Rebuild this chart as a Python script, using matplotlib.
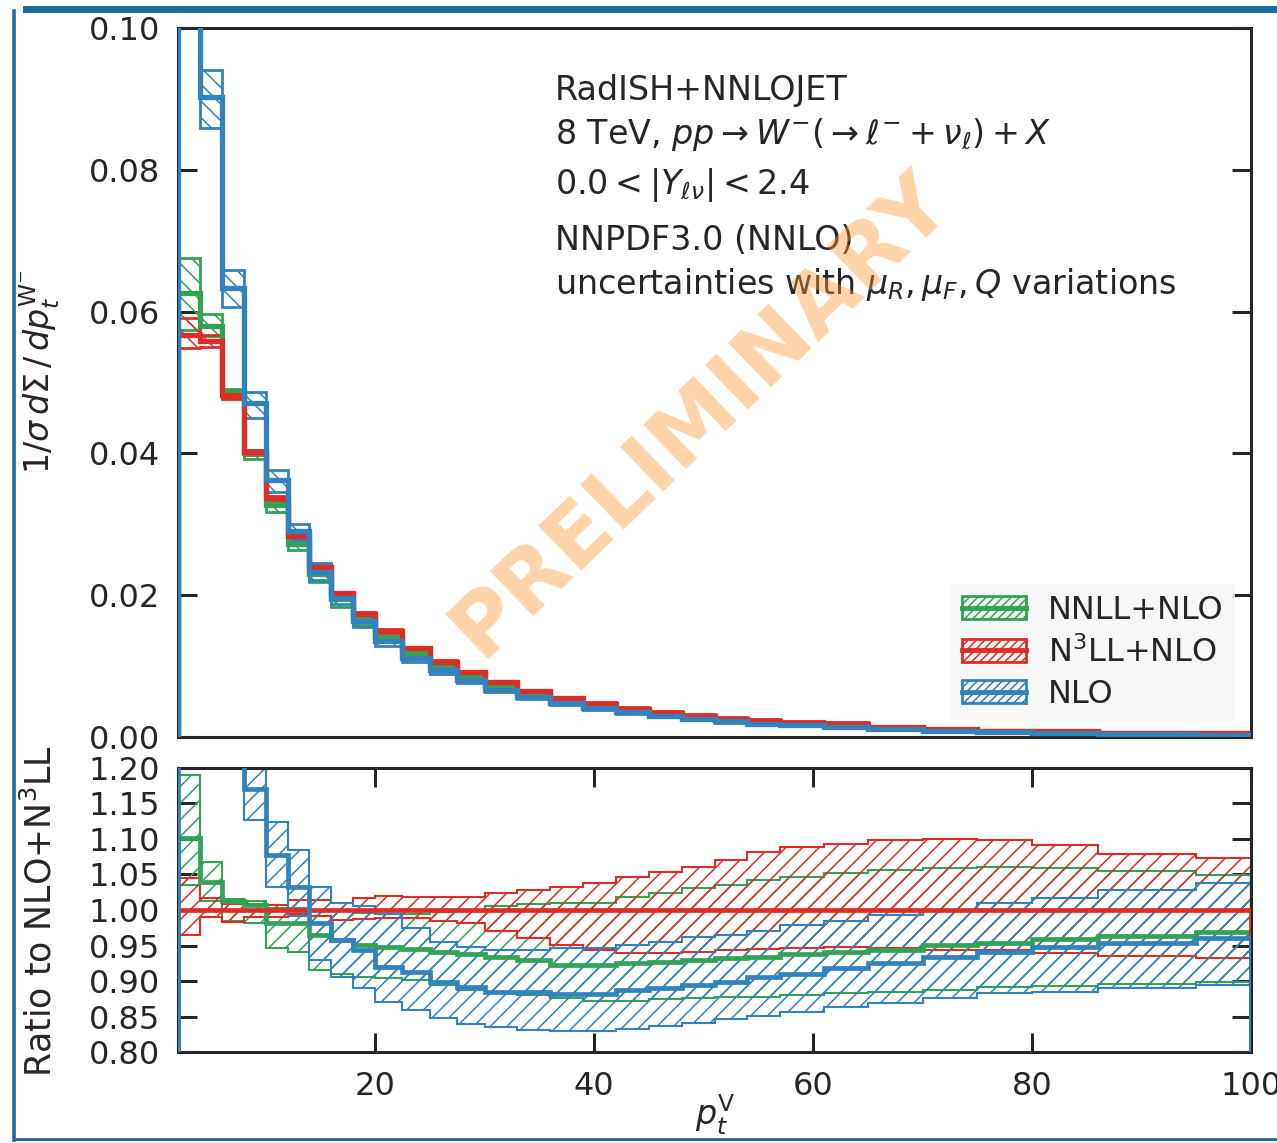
import matplotlib
matplotlib.use("Agg")
import matplotlib.pyplot as plt
import numpy as np
from matplotlib.lines import Line2D
from matplotlib.patches import Patch

plt.rcParams["font.family"] = ["DejaVu Sans"]
plt.rcParams["mathtext.fontset"] = "dejavusans"
plt.rcParams["hatch.linewidth"] = 1.1

GREEN, RED, BLUE = "#31a354", "#de2d26", "#3182bd"

# bin edges in p_t (GeV)
edges = [2, 4, 6, 8, 10, 12, 14, 16, 18, 20, 22.5, 25, 27.5, 30, 33, 36, 39, 42,
         45, 48, 51, 54, 57, 61, 65, 70, 75, 80, 86, 95, 100]

# ---- top panel: 1/sigma dSigma/dpt ----
nnll = [0.0626, 0.0580, 0.0487, 0.0400, 0.0327, 0.0272, 0.0230, 0.0194, 0.0166, 0.0141,
        0.0119, 0.0100, 0.0085, 0.0072, 0.0060, 0.0050, 0.0043, 0.0036, 0.0031, 0.0027,
        0.0023, 0.0020, 0.0018, 0.0016, 0.0013, 0.0010, 0.0008, 0.0007, 0.0005, 0.0004]
nnll_hi = [0.0675, 0.0597, 0.0491, 0.0405, 0.0332, 0.0278, 0.0233, 0.0198, 0.0169, 0.0143,
           0.0121, 0.0102, 0.0087, 0.0074, 0.0062, 0.0052, 0.0045, 0.0038, 0.0033, 0.0029,
           0.0025, 0.0022, 0.0019, 0.0017, 0.0014, 0.0011, 0.0009, 0.0008, 0.0006, 0.0005]
nnll_lo = [0.0574, 0.0565, 0.0478, 0.0392, 0.0318, 0.0264, 0.0219, 0.0184, 0.0158, 0.0134,
           0.0113, 0.0095, 0.0081, 0.0068, 0.0057, 0.0047, 0.0040, 0.0034, 0.0029, 0.0025,
           0.0021, 0.0018, 0.0016, 0.0014, 0.0012, 0.0009, 0.0007, 0.0006, 0.0004, 0.0003]

n3ll = [0.0567, 0.0558, 0.0482, 0.0402, 0.0337, 0.0283, 0.0240, 0.0203, 0.0174, 0.0149,
        0.0125, 0.0106, 0.0091, 0.0077, 0.0065, 0.0055, 0.0047, 0.0040, 0.0034, 0.0030,
        0.0026, 0.0023, 0.0020, 0.0019, 0.00145, 0.0011, 0.0009, 0.0008, 0.0006, 0.0005]
n3ll_hi = [0.0591, 0.0567, 0.0487, 0.0405, 0.0340, 0.0287, 0.0243, 0.0205, 0.0177, 0.0152,
           0.0127, 0.0108, 0.0093, 0.0079, 0.0067, 0.0057, 0.0049, 0.0042, 0.0036, 0.0032,
           0.0028, 0.0025, 0.0022, 0.0021, 0.0016, 0.0012, 0.0010, 0.0009, 0.0007, 0.0006]
n3ll_lo = [0.0548, 0.0550, 0.0477, 0.0398, 0.0334, 0.0281, 0.0238, 0.0200, 0.0172, 0.0147,
           0.0123, 0.0104, 0.0089, 0.0075, 0.0062, 0.0052, 0.0044, 0.0038, 0.0032, 0.0028,
           0.0024, 0.0022, 0.0019, 0.0018, 0.0014, 0.0010, 0.0008, 0.0007, 0.0005, 0.0004]

nlo = [0.118, 0.0903, 0.0633, 0.0471, 0.0362, 0.0290, 0.0233, 0.0196, 0.0163, 0.0135,
       0.0112, 0.0094, 0.0080, 0.0067, 0.0057, 0.0048, 0.0041, 0.0035, 0.0030, 0.0026,
       0.0022, 0.0019, 0.0017, 0.00145, 0.0011, 0.0008, 0.0007, 0.0005, 0.0004, 0.0003]
nlo_hi = [0.125, 0.0941, 0.0659, 0.0487, 0.0377, 0.0301, 0.0245, 0.0205, 0.0168, 0.0139,
          0.0116, 0.0097, 0.0083, 0.0070, 0.0060, 0.0050, 0.0043, 0.0037, 0.0032, 0.0028,
          0.0024, 0.0021, 0.0019, 0.0016, 0.0013, 0.0010, 0.0009, 0.0007, 0.0006, 0.0005]
nlo_lo = [0.112, 0.0859, 0.0607, 0.0450, 0.0346, 0.0278, 0.0222, 0.0187, 0.0155, 0.0128,
          0.0106, 0.0089, 0.0076, 0.0063, 0.0054, 0.0045, 0.0038, 0.0033, 0.0028, 0.0024,
          0.0020, 0.0017, 0.0015, 0.0013, 0.0010, 0.0007, 0.0006, 0.0004, 0.0003, 0.0002]

# ---- bottom panel: ratio to NLO+N3LL ----
r_nnll = [1.101, 1.040, 1.012, 1.007, 0.982, 0.982, 0.965, 0.958, 0.951, 0.948,
          0.945, 0.941, 0.938, 0.934, 0.929, 0.923, 0.923, 0.925, 0.927, 0.930,
          0.932, 0.934, 0.938, 0.941, 0.944, 0.951, 0.954, 0.959, 0.963, 0.969]
r_nnll_hi = [1.190, 1.068, 1.015, 1.012, 1.003, 1.003, 1.000, 0.998, 0.996, 0.995,
             0.995, 0.997, 1.000, 1.005, 1.008, 1.010, 1.010, 1.019, 1.024, 1.031,
             1.035, 1.042, 1.047, 1.052, 1.056, 1.059, 1.061, 1.059, 1.055, 1.049]
r_nnll_lo = [1.035, 1.012, 0.985, 0.982, 0.946, 0.941, 0.916, 0.910, 0.906, 0.904,
             0.901, 0.894, 0.887, 0.883, 0.880, 0.876, 0.872, 0.872, 0.874, 0.876,
             0.878, 0.878, 0.880, 0.883, 0.885, 0.887, 0.891, 0.893, 0.896, 0.899]

r_n3ll = [1.0, 1.0, 1.0, 1.0, 1.0, 1.0, 1.0, 1.0, 1.0, 1.0,
          1.0, 1.0, 1.0, 1.0, 1.0, 1.0, 1.0, 1.0, 1.0, 1.0,
          1.0, 1.0, 1.0, 1.0, 1.0, 1.0, 1.0, 1.0, 1.0, 1.0]
r_n3ll_hi = [1.045, 1.017, 1.008, 1.008, 1.007, 1.014, 1.014, 1.010, 1.017, 1.020,
             1.019, 1.019, 1.019, 1.024, 1.028, 1.033, 1.038, 1.047, 1.054, 1.060,
             1.070, 1.081, 1.089, 1.093, 1.098, 1.100, 1.099, 1.091, 1.079, 1.073]
r_n3ll_lo = [0.965, 0.990, 0.983, 0.990, 0.990, 0.995, 0.992, 0.986, 0.988, 0.989,
             0.989, 0.984, 0.981, 0.970, 0.960, 0.951, 0.944, 0.940, 0.939, 0.941,
             0.944, 0.945, 0.946, 0.948, 0.946, 0.944, 0.944, 0.940, 0.935, 0.932]

r_nlo = [2.05, 1.62, 1.31, 1.171, 1.077, 1.033, 0.981, 0.958, 0.944, 0.920,
         0.912, 0.898, 0.892, 0.885, 0.885, 0.882, 0.882, 0.887, 0.890, 0.894,
         0.899, 0.905, 0.910, 0.918, 0.926, 0.934, 0.941, 0.948, 0.954, 0.960]
r_nlo_hi = [2.20, 1.70, 1.37, 1.220, 1.124, 1.085, 1.033, 1.010, 1.005, 0.995,
            0.975, 0.955, 0.948, 0.944, 0.944, 0.946, 0.946, 0.951, 0.955, 0.962,
            0.965, 0.970, 0.979, 0.985, 0.993, 1.000, 1.010, 1.017, 1.028, 1.038]
r_nlo_lo = [1.95, 1.55, 1.26, 1.127, 1.033, 0.991, 0.930, 0.906, 0.890, 0.871,
            0.859, 0.848, 0.840, 0.835, 0.831, 0.829, 0.829, 0.833, 0.836, 0.841,
            0.846, 0.851, 0.857, 0.863, 0.869, 0.876, 0.883, 0.885, 0.890, 0.894]

labels = ["NNLL+NLO", "N$^3$LL+NLO", "NLO"]
colors = [GREEN, RED, BLUE]
INK = "#262626"


def draw(ax, series, hatch, band_lw, line_lw):
    for (c, lo, hi, _) in series:
        ax.stairs(hi, edges, baseline=lo, fill=False, edgecolor=c, hatch=hatch,
                  lw=band_lw, zorder=2)
    for (c, _, _, mid) in series:
        ax.stairs(mid, edges, baseline=0, color=c, lw=line_lw, zorder=3)


def style(ax):
    for s in ax.spines.values():
        s.set_color(INK)
        s.set_linewidth(2.2)
    ax.tick_params(direction="in", length=14, width=2.2, color=INK,
                   labelsize=23, pad=13, labelcolor=INK)


fig = plt.figure(figsize=(12.77, 11.43), dpi=100)
ax1 = fig.add_axes([0.1394, 0.3552, 0.8403, 0.6203])
ax2 = fig.add_axes([0.1394, 0.0796, 0.8403, 0.2485])

draw(ax1, [(GREEN, nnll_lo, nnll_hi, nnll), (RED, n3ll_lo, n3ll_hi, n3ll),
           (BLUE, nlo_lo, nlo_hi, nlo)], "\\\\", 2.0, 3.8)
draw(ax2, [(GREEN, r_nnll_lo, r_nnll_hi, r_nnll), (RED, r_n3ll_lo, r_n3ll_hi, r_n3ll),
           (BLUE, r_nlo_lo, r_nlo_hi, r_nlo)], "//", 1.5, 3.4)

ax1.set_xlim(2, 100)
ax1.set_ylim(0, 0.10)
ax1.set_yticks(np.arange(0, 0.101, 0.02))
ax1.yaxis.set_major_formatter(matplotlib.ticker.FormatStrFormatter("%.2f"))
style(ax1)
ax1.tick_params(axis="x", length=0, labelbottom=False)
ax1.tick_params(axis="y", right=True)

ax2.set_xlim(2, 100)
ax2.set_ylim(0.80, 1.20)
ax2.set_yticks(np.arange(0.80, 1.201, 0.05))
ax2.set_xticks([20, 40, 60, 80, 100])
ax2.yaxis.set_major_formatter(matplotlib.ticker.FormatStrFormatter("%.2f"))
style(ax2)
ax2.tick_params(axis="both", right=True, top=True)
ax2.tick_params(axis="x", pad=14)

# legend: hatched band + central line
handles = [(Patch(facecolor="none", edgecolor=c, hatch="////", lw=2), Line2D([], [], color=c, lw=3.5))
           for c in colors]
leg = ax1.legend(handles, labels, loc="lower right", fontsize=23, frameon=True,
                 handlelength=2.0, handletextpad=0.7, labelspacing=0.32,
                 borderaxespad=0.5, borderpad=0.35, fancybox=False)
leg.get_frame().set_facecolor("#f5f5f5")
leg.get_frame().set_edgecolor("none")
for t in leg.get_texts():
    t.set_color(INK)

# info text
info = ["RadISH+NNLOJET",
        r"8 TeV, $pp \to W^{-}(\to \ell^{-} + \nu_{\ell}) + X$",
        r"$0.0 < |Y_{\ell\nu}| < 2.4$",
        "NNPDF3.0 (NNLO)",
        r"uncertainties with $\mu_R, \mu_F, Q$ variations"]
baselines = [100, 144, 194, 250, 294]
for s, yb in zip(info, baselines):
    fig.text(555 / 1277, 1 - yb / 1143, s, fontsize=24, color=INK, va="baseline")

fig.text(40 / 1277, 1 - 372 / 1143, r"$1/\sigma\, d\Sigma\,/\,dp_t^{\mathrm{W}^{-}}$",
         rotation=90, ha="center", va="center", fontsize=24, color=INK)
fig.text(40 / 1277, 1 - 911 / 1143, "Ratio to NLO+N$^3$LL",
         rotation=90, ha="center", va="center", fontsize=25, color=INK)
fig.text(715 / 1277, 1 - 1115 / 1143, r"$p_t^{\mathrm{V}}$",
         ha="center", va="center", fontsize=24, color=INK)

# watermark
fig.text(700 / 1277, 1 - 415 / 1143, "PRELIMINARY", rotation=44, ha="center", va="center",
         fontsize=62, fontweight="bold", color="#ff9933", alpha=0.42, zorder=10)

# slide frame
frame = "#1a6aa0"
fig.add_artist(Line2D([0.02, 1.0], [0.9925, 0.9925], transform=fig.transFigure, color=frame, lw=5))
fig.add_artist(Line2D([0.011, 0.011], [0.003, 0.99], transform=fig.transFigure, color=frame, lw=2.6))
fig.add_artist(Line2D([0.011, 1.0], [0.0035, 0.0035], transform=fig.transFigure, color=frame, lw=2.0))

fig.savefig("out.png", dpi=100)
